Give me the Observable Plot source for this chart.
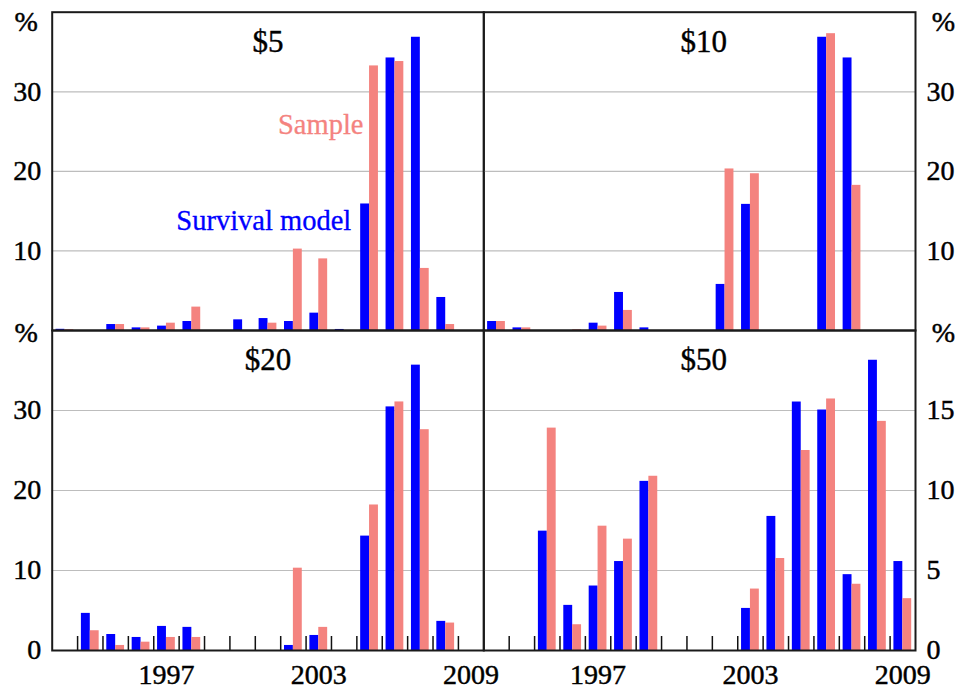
<!DOCTYPE html>
<html><head><meta charset="utf-8">
<script src="https://cdn.jsdelivr.net/npm/d3@7"></script>
<script src="https://cdn.jsdelivr.net/npm/@observablehq/plot@0.6"></script>
<style>
html,body{margin:0;padding:0;background:#fff;}
#chart{position:relative;width:958px;height:690px;overflow:hidden;background:#fff;}
#chart svg{position:absolute;left:0;top:0;}
#chart g[aria-label$="tick label"] text{stroke:#000;stroke-width:0.45px;}
</style></head><body><div id="chart"></div>
<script>
// ---- data ----
const years = [1993,1994,1995,1996,1997,1998,1999,2000,2001,2002,2003,2004,2005,2006,2007,2008,2009];
const yearLabels = [1997, 2003, 2009];
const titles = ["$5", "$10", "$20", "$50"];
const seriesNames = ["Survival model", "Sample"];

const model5  = [0.15, 0, 0.75, 0.33, 0.55, 1.13, 0, 1.34, 1.5, 1.13, 2.18, 0.13, 15.9, 34.25, 36.85, 4.15, 0];
const sample5 = [0.1, 0, 0.75, 0.33, 0.92, 2.94, 0, 0, 0.92, 10.23, 9.0, 0, 33.25, 33.8, 7.8, 0.75, 0];

const model10  = [1.13, 0.33, 0, 0, 0.92, 4.78, 0.33, 0, 0, 5.79, 15.85, 0, 0, 36.85, 34.25, 0, 0];
const sample10 = [1.13, 0.33, 0, 0.1, 0.55, 2.52, 0, 0, 0, 20.3, 19.7, 0, 0, 37.3, 18.24, 0, 0];

const model20  = [0, 4.64, 2.0, 1.63, 3.01, 2.89, 0, 0, 0, 0.63, 1.88, 0, 14.3, 30.45, 35.67, 3.64, 0];
const sample20 = [0, 2.47, 0.63, 1.04, 1.63, 1.63, 0, 0, 0, 10.29, 2.89, 0, 18.19, 31.07, 27.6, 3.43, 0];

const model50  = [0, 0, 7.46, 2.82, 4.03, 5.56, 10.57, 0, 0, 0, 2.63, 8.38, 15.53, 15.03, 4.74, 18.14, 5.56];
const sample50 = [0, 0, 13.9, 1.61, 7.77, 6.96, 10.89, 0, 0, 0, 3.84, 5.75, 12.5, 15.72, 4.14, 14.32, 3.24];

const yTicks40 = [10, 20, 30];
const yTicks40zero = [0, 10, 20, 30];
const yTicks20zero = [0, 5, 10, 15];

// ---- styling / layout ----
const BLUE = "#0000ff";
const SALMON = "#f4837f";
const FONT = "Liberation Serif, Times New Roman, serif";
const W = 958, H = 690;
const colX = [[51.7, 483.3], [483.3, 915]];
const rowY = [[11.7, 330], [330, 650]];

const panels = [
  {title: titles[0], model: model5,  sample: sample5,  yMax: 40, ticks: yTicks40,     col: 0, row: 0, legend: true},
  {title: titles[1], model: model10, sample: sample10, yMax: 40, ticks: yTicks40,     col: 1, row: 0},
  {title: titles[2], model: model20, sample: sample20, yMax: 40, ticks: yTicks40zero, col: 0, row: 1},
  {title: titles[3], model: model50, sample: sample50, yMax: 20, ticks: yTicks20zero, col: 1, row: 1}
];

const halfW = 0.35;
const boundaries = years.slice(0, -1).map(y => y + 0.5);

function makePanel(p) {
  const rows = years.map((year, i) => ({year, model: p.model[i], sample: p.sample[i]}));
  const [x0, x1] = colX[p.col];
  const [y0, y1] = rowY[p.row];
  const innerH = y1 - y0;
  const side = p.col === 0 ? "left" : "right";
  const bottom = p.row === 1;
  const gridTicks = p.ticks.filter(t => t > 0);
  const marks = [
    Plot.gridY(gridTicks, {stroke: "#bdbdbd", strokeOpacity: 1, strokeWidth: 1.2}),
    Plot.rectY(rows, {x1: d => d.year - halfW, x2: d => d.year, y: "model", fill: BLUE}),
    Plot.rectY(rows, {x1: d => d.year, x2: d => d.year + halfW, y: "sample", fill: SALMON}),
  ];
  if (bottom) {
    marks.push(Plot.ruleX(boundaries, {insetTop: innerH - 14, stroke: "#111", strokeWidth: 1.5}));
  }
  marks.push(Plot.frame({stroke: "#1a1a1a", strokeWidth: 2}));
  marks.push(Plot.axisY(p.ticks, {anchor: side, tickSize: 0, tickPadding: 11, fontSize: 28, fill: "#000"}));
  marks.push(Plot.text(["%"], {y: p.yMax, frameAnchor: side, dx: side === "left" ? -26 : 28,
    dy: p.row === 0 ? 10 : 3, fontSize: 28, textAnchor: "middle", lineAnchor: "middle",
    fill: "#000", stroke: "#000", strokeWidth: 0.45}));
  marks.push(Plot.text([p.title], {frameAnchor: "top", lineAnchor: "middle", dy: 29.5, dx: p.col === 1 ? 4 : 0,
    fontSize: 31, fill: "#000", stroke: "#000", strokeWidth: 0.4}));
  if (bottom) {
    marks.push(Plot.axisX(yearLabels, {tickSize: 0, tickPadding: 14, fontSize: 28, fill: "#000", tickFormat: d => String(d)}));
  }
  if (p.legend) {
    marks.push(Plot.text([seriesNames[1]], {x: 2004.76, y: 25.84, textAnchor: "end", lineAnchor: "middle",
      fill: SALMON, stroke: SALMON, strokeWidth: 0.3, fontSize: 28.5}));
    marks.push(Plot.text([seriesNames[0]], {x: 2004.28, y: 13.82, textAnchor: "end", lineAnchor: "middle",
      fill: BLUE, stroke: BLUE, strokeWidth: 0.3, fontSize: 28.5}));
  }
  return Plot.plot({
    width: W, height: H,
    marginLeft: x0, marginRight: W - x1, marginTop: y0, marginBottom: H - y1,
    style: {fontFamily: FONT, fontSize: "28px", background: "transparent", overflow: "visible", color: "#000"},
    x: {domain: [1992.5, 2009.5], axis: bottom ? undefined : null},
    y: {domain: [0, p.yMax]},
    marks
  });
}

const chart = document.getElementById("chart");
for (const p of panels) chart.appendChild(makePanel(p));
</script>
</body></html>
